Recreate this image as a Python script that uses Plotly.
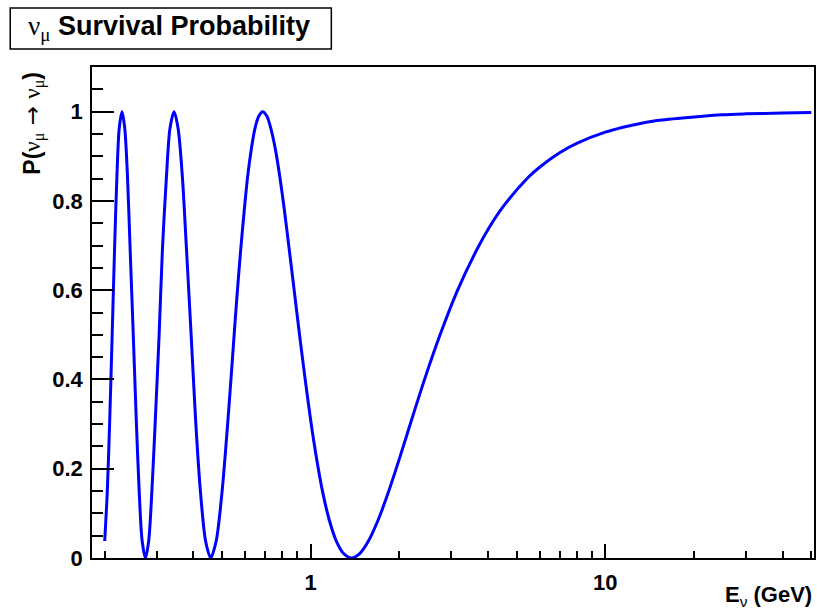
import plotly.graph_objects as go
import math

# Data: neutrino energy (GeV) and survival probability
energy = [0.2, 0.204, 0.208, 0.212, 0.216, 0.22, 0.224, 0.229, 0.234, 0.239,
          0.244, 0.25, 0.256, 0.262, 0.268, 0.275, 0.282, 0.289, 0.297, 0.306,
          0.314, 0.324, 0.333, 0.344, 0.355, 0.367, 0.379, 0.393, 0.407, 0.423,
          0.44, 0.458, 0.478, 0.5, 0.524, 0.55, 0.564, 0.579, 0.595, 0.611,
          0.629, 0.647, 0.667, 0.6875, 0.710, 0.733, 0.759, 0.786, 0.815, 0.846,
          0.88, 0.917, 0.957, 1.0, 1.048, 1.1, 1.158, 1.222, 1.294, 1.375,
          1.467, 1.571, 1.692, 1.833, 2.0, 2.2, 2.444, 2.75, 3.143, 3.667,
          4.0, 4.5, 5.5, 6.0, 7.0, 8.0, 10.0, 12.0, 15.0, 20.0,
          25.0, 30.0, 40.0, 50.0]
prob = [0.038, 0.146, 0.309, 0.5, 0.691, 0.854, 0.962, 1.0, 0.962, 0.854,
        0.691, 0.5, 0.309, 0.146, 0.038, 0.0, 0.038, 0.146, 0.309, 0.5,
        0.691, 0.854, 0.962, 1.0, 0.962, 0.854, 0.691, 0.5, 0.309, 0.146,
        0.038, 0.0, 0.038, 0.146, 0.309, 0.5, 0.598, 0.691, 0.778, 0.854,
        0.916, 0.962, 0.990, 1.0, 0.990, 0.962, 0.916, 0.854, 0.778, 0.691,
        0.598, 0.5, 0.403, 0.309, 0.222, 0.146, 0.084, 0.038, 0.010, 0.0,
        0.010, 0.038, 0.084, 0.146, 0.222, 0.309, 0.403, 0.5, 0.598, 0.691,
        0.736, 0.787, 0.854, 0.876, 0.908, 0.929, 0.954, 0.968, 0.980, 0.988,
        0.993, 0.995, 0.997, 0.998]

x_major = [1, 10]
x_major_text = ["1", "10"]
x_minor = [0.2, 0.3, 0.4, 0.5, 0.6, 0.7, 0.8, 0.9,
           2, 3, 4, 5, 6, 7, 8, 9, 20, 30, 40, 50]
y_ticks = [0, 0.2, 0.4, 0.6, 0.8, 1.0]
y_tick_text = ["0", "0.2", "0.4", "0.6", "0.8", "1"]

FONT = "Liberation Sans, Arial, sans-serif"

# plot-area geometry (pixels)
W, H = 817, 612
L, R, T, B = 92, 816, 67, 558
def px(x):
    return (x - L) / (R - L)
def py(y):
    return (B - y) / (B - T)

xr = [math.log10(0.1811), math.log10(51.1)]

fig = go.Figure()
fig.add_trace(go.Scatter(x=energy, y=prob, mode="lines",
                         line=dict(color="#0000ff", width=3, shape="spline", smoothing=0.8),
                         hoverinfo="x+y", showlegend=False))

fig.update_layout(
    width=W, height=H,
    margin=dict(l=L, r=W - R, t=T, b=H - B, pad=0),
    paper_bgcolor="white", plot_bgcolor="white",
    showlegend=False,
    font=dict(family=FONT, color="black"),
    xaxis=dict(type="log", range=xr, tickvals=x_major, ticktext=x_major_text,
               ticks="inside", ticklen=14, tickwidth=1.5, tickcolor="black",
               tickfont=dict(family=FONT, size=22, weight="bold"),
               ticklabelstandoff=4,
               minor=dict(tickvals=x_minor, ticks="inside", ticklen=7,
                          tickwidth=1.5, tickcolor="black", showgrid=False),
               showline=True, linecolor="black", linewidth=1.5, mirror=True,
               showgrid=False, zeroline=False),
    yaxis=dict(range=[0, 1.1], tickvals=y_ticks, ticktext=y_tick_text,
               ticks="inside", ticklen=22, tickwidth=1.5, tickcolor="black",
               tickfont=dict(family=FONT, size=22, weight="bold"),
               ticklabelstandoff=3,
               minor=dict(ticks="inside", ticklen=11, dtick=0.05, tick0=0,
                          tickcolor="black", tickwidth=1.5, showgrid=False),
               showline=True, linecolor="black", linewidth=1.5, mirror=True,
               showgrid=False, zeroline=False),
)

# title box
fig.add_shape(type="rect", xref="paper", yref="paper",
              x0=px(10), x1=px(332), y0=py(49), y1=py(8),
              line=dict(color="black", width=1.5), fillcolor="white", layer="above")
fig.add_annotation(xref="paper", yref="paper", x=px(169), y=py(28.5),
                   xanchor="center", yanchor="middle", showarrow=False,
                   text="<span style='font-family:Liberation Serif'>ν<sub>μ</sub></span> <b>Survival Probability</b>",
                   font=dict(family=FONT, size=27, color="black"))

# y axis title
fig.add_annotation(xref="paper", yref="paper", x=px(33), y=py(70),
                   xanchor="center", yanchor="top", showarrow=False, textangle=-90,
                   text="<b>P(</b><span style='font-family:Liberation Serif'>ν<sub>μ</sub></span>"
                        "<span style='font-family:DejaVu Sans'> → </span>"
                        "<span style='font-family:Liberation Serif'>ν<sub>μ</sub></span><b>)</b>",
                   font=dict(family=FONT, size=23, color="black"))

# x axis title
fig.add_annotation(xref="paper", yref="paper", x=1.0, y=py(596),
                   xanchor="right", yanchor="middle", showarrow=False,
                   text="<b>E</b><sub>ν</sub><b> (GeV)</b>",
                   font=dict(family=FONT, size=22, color="black"))

fig.write_html("out.html")
